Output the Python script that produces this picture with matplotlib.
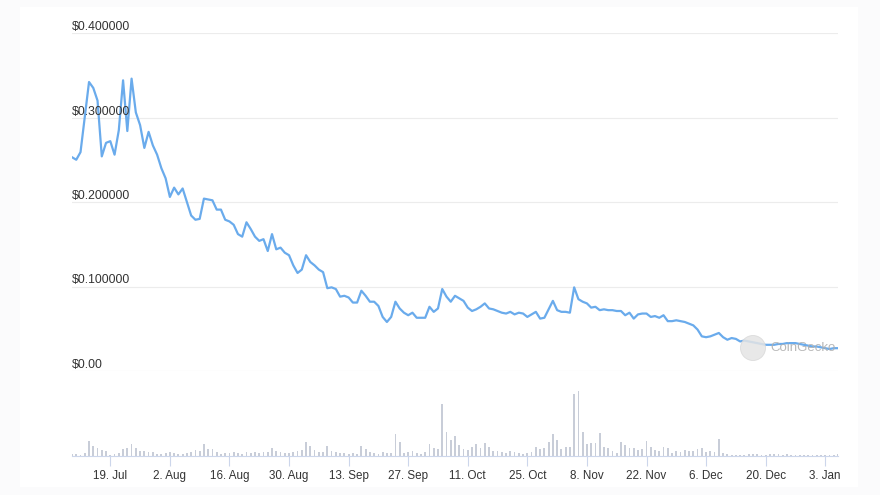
import numpy as np
import pandas as pd
import matplotlib
matplotlib.use('Agg')
import matplotlib.pyplot as plt
import matplotlib.transforms as mtransforms
from matplotlib.patches import Circle, Rectangle

plt.rcParams['font.family'] = ['Liberation Sans', 'DejaVu Sans']

# daily price (USD)
price = [0.253, 0.250, 0.259, 0.300, 0.342, 0.335, 0.320, 0.254, 0.270, 0.272,
         0.256, 0.285, 0.344, 0.284, 0.346, 0.306, 0.291, 0.264, 0.283, 0.267,
         0.256, 0.240, 0.228, 0.206, 0.217, 0.209, 0.216, 0.200, 0.184, 0.179,
         0.180, 0.204, 0.203, 0.202, 0.191, 0.191, 0.179, 0.177, 0.173, 0.162,
         0.159, 0.176, 0.168, 0.159, 0.154, 0.156, 0.142, 0.162, 0.144, 0.146,
         0.140, 0.137, 0.125, 0.116, 0.120, 0.137, 0.129, 0.125, 0.120, 0.117,
         0.098, 0.099, 0.097, 0.088, 0.089, 0.087, 0.081, 0.081, 0.095, 0.089,
         0.082, 0.082, 0.077, 0.064, 0.058, 0.064, 0.082, 0.074, 0.069, 0.066,
         0.069, 0.063, 0.063, 0.063, 0.076, 0.070, 0.074, 0.097, 0.088, 0.082,
         0.089, 0.086, 0.083, 0.075, 0.071, 0.073, 0.076, 0.080, 0.074, 0.073,
         0.071, 0.069, 0.068, 0.070, 0.067, 0.069, 0.068, 0.064, 0.067, 0.070,
         0.062, 0.063, 0.073, 0.083, 0.072, 0.070, 0.070, 0.069, 0.099, 0.085,
         0.082, 0.080, 0.075, 0.076, 0.072, 0.073, 0.072, 0.072, 0.071, 0.071,
         0.066, 0.069, 0.062, 0.067, 0.068, 0.068, 0.064, 0.065, 0.063, 0.066,
         0.059, 0.059, 0.060, 0.059, 0.058, 0.056, 0.054,
         0.049, 0.041, 0.040, 0.041, 0.043, 0.045, 0.040, 0.037, 0.039, 0.038,
         0.035, 0.036, 0.035, 0.034, 0.033, 0.032, 0.031, 0.031, 0.031, 0.032,
         0.032, 0.033, 0.033, 0.033, 0.032, 0.031, 0.030, 0.029, 0.029, 0.028,
         0.027, 0.026, 0.027, 0.027]

# daily volume (relative units)
volume = [2, 2, 1, 3, 15, 10, 8, 6, 5, 1,
          2, 3, 7, 8, 12, 8, 5, 5, 4, 4,
          2, 2, 3, 4, 3, 2, 2, 3, 4, 6,
          5, 12, 7, 7, 4, 2, 3, 3, 4, 3,
          2, 4, 3, 4, 3, 4, 4, 8, 5, 4,
          3, 3, 4, 5, 6, 14, 10, 6, 4, 4,
          10, 5, 4.3, 3.3, 3, 2, 2.7, 2.3, 10.3, 6.7,
          3.7, 3, 2.3, 3.7, 3, 3.3, 21.7, 13.7, 3, 4.3,
          5, 2.7, 2.3, 3.7, 11.7, 8.3, 6.7, 52.3, 23.7, 16,
          19.7, 11, 6.7, 6.3, 9.3, 11.7, 7.7, 13.3, 9.3, 5,
          5, 4, 3, 5, 3.7, 3.3, 1.7, 3.3, 4.3, 9.3,
          7, 7.7, 14.3, 21.7, 16, 6.7, 9.3, 9.3, 62, 65,
          24, 11.7, 13, 13, 23, 9, 8, 4.7, 3, 14,
          11.3, 8, 8, 6.3, 6.7, 15, 9, 6.3, 5, 9,
          8, 3, 4.7, 4, 6.3, 4.7, 5, 7.3, 8, 4,
          5, 4.3, 17.3, 3.3, 2.3, 1.3, 0.7, 1.3, 1.3, 2,
          1.7, 1.7, 1, 0.7, 1.7, 2, 1.7, 1.3, 2, 1,
          0.7, 0.7, 1.3, 1, 0.7, 0.7, 0.7, 0.7, 1, 1,
          2.3]

start_date = '2022-07-10'
price_ticks = [0.0, 0.1, 0.2, 0.3, 0.4]
price_labels = ['$0.00', '$0.100000', '$0.200000', '$0.300000', '$0.400000']
date_ticks = pd.date_range('2022-07-19', '2023-01-03', freq='14D')

dates = pd.date_range(start_date, periods=len(price), freq='D')

W, H = 880, 495
fig = plt.figure(figsize=(W / 100, H / 100), dpi=100)
fig.patch.set_facecolor('#fbfbfc')
fig.add_artist(Rectangle((20 / W, 8 / H), 838 / W, 480 / H, transform=fig.transFigure,
                         facecolor='white', edgecolor='none', zorder=0))

x0, x1 = 72, 838
ax = fig.add_axes([x0 / W, 1 - 371 / H, (x1 - x0) / W, (371 - 33) / H])
axv = fig.add_axes([x0 / W, 1 - 456 / H, (x1 - x0) / W, 70 / H])
for a in (ax, axv):
    a.set_facecolor('none')
    a.set_xlim(dates[0], dates[-1])

# price panel
ax.plot(dates, price, color='#6aabec', lw=1.6, solid_joinstyle='round', zorder=3)
ax.set_ylim(0, 0.4)
for v in price_ticks:
    ax.axhline(v, color='#ececec', lw=0.8, zorder=1)
off = mtransforms.offset_copy(ax.get_yaxis_transform(), fig=fig, x=0, y=3, units='dots')
for v, lab in zip(price_ticks, price_labels):
    ax.text(0, v, lab, transform=off, ha='left', va='baseline', fontsize=8.8,
            color='#333333', zorder=4)
ax.set_xticks([])
ax.set_yticks([])
for s in ax.spines.values():
    s.set_visible(False)

# volume panel
axv.bar(dates, volume, width=0.42, color='#c8cdd8', align='center')
axv.set_ylim(0, 70)
axv.set_yticks([])
axv.set_xticks(date_ticks)
axv.set_xticklabels([f'{d.day}. {d.strftime("%b")}' for d in date_ticks])
axv.tick_params(axis='x', length=7, width=0.8, color='#ccd6eb', labelsize=8.4,
                labelcolor='#333333', pad=3)
for k, s in axv.spines.items():
    s.set_visible(k == 'bottom')
axv.spines['bottom'].set_color('#ccd6eb')
axv.spines['bottom'].set_linewidth(0.8)

# watermark
fig.add_artist(Circle((7.53, (H - 348) / 100), 0.125, transform=fig.dpi_scale_trans,
                      facecolor='#e4e4e4', edgecolor='#d8d8d8', lw=0.6, alpha=0.85, zorder=5))
fig.text(770 / W, 1 - 348 / H, 'CoinGecko', ha='left', va='center', fontsize=9.5,
         color='#b0b0b0', alpha=0.9, zorder=6)

fig.savefig('out.png', dpi=100, facecolor=fig.get_facecolor())
